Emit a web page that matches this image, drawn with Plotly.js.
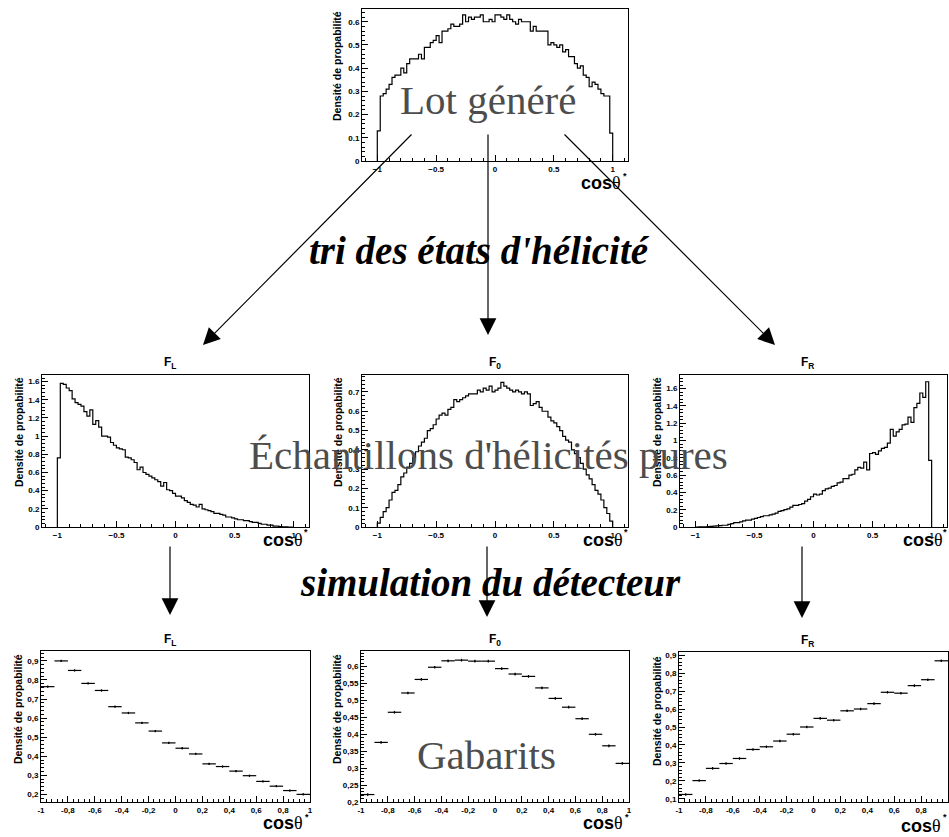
<!DOCTYPE html>
<html>
<head>
<meta charset="utf-8">
<script src="https://cdn.plot.ly/plotly-3.0.1.min.js"></script>
<style>
  body { margin: 0; background: #fff; }
  #plotly_graph { width: 949px; height: 837px; }
</style>
</head>
<body>
<div id="plotly_graph"></div>
<script>
//**************************************************************************
//~~~~~~~~~~~~~~~~~~~~~~~~~~~~~~~~~~ DATA ~~~~~~~~~~~~~~~~~~~~~~~~~~~~~~~~~~
//**************************************************************************

// histograms: 80 bins of 0.025 from -1 to 1
const HIST_LO = -1
const HIST_W = 0.025

const LOT = [
    0.13, 0.28, 0.29, 0.31, 0.33, 0.36, 0.37, 0.37, 0.40, 0.38,
    0.42, 0.44, 0.44, 0.44, 0.46, 0.44, 0.49, 0.49, 0.51, 0.52,
    0.54, 0.51, 0.56, 0.56, 0.57, 0.59, 0.58, 0.58, 0.59, 0.63,
    0.60, 0.62, 0.61, 0.62, 0.62, 0.63, 0.60, 0.60, 0.61, 0.60,
    0.63, 0.63, 0.62, 0.61, 0.63, 0.61, 0.60, 0.59, 0.61, 0.60,
    0.60, 0.60, 0.56, 0.58, 0.56, 0.56, 0.56, 0.56, 0.50, 0.51,
    0.50, 0.49, 0.50, 0.47, 0.48, 0.45, 0.45, 0.42, 0.40, 0.41,
    0.37, 0.36, 0.32, 0.34, 0.33, 0.31, 0.29, 0.28, 0.28, 0.12
]

const PURE_FL = [
    0.76, 1.58, 1.57, 1.53, 1.50, 1.41, 1.37, 1.35, 1.33, 1.27,
    1.22, 1.29, 1.13, 1.17, 1.10, 1.00, 1.00, 0.99, 0.93, 0.90,
    0.87, 0.86, 0.85, 0.77, 0.76, 0.74, 0.71, 0.63, 0.66, 0.60,
    0.58, 0.56, 0.54, 0.52, 0.50, 0.45, 0.49, 0.41, 0.40, 0.37,
    0.34, 0.34, 0.32, 0.29, 0.27, 0.25, 0.24, 0.22, 0.25, 0.20,
    0.19, 0.18, 0.17, 0.15, 0.15, 0.14, 0.13, 0.11, 0.11, 0.10,
    0.09, 0.08, 0.08, 0.07, 0.07, 0.06, 0.05, 0.05, 0.04, 0.03,
    0.03, 0.02, 0.02, 0.01, 0.01, 0.005, 0.003, 0.001, 0, 0
]

const PURE_F0 = [
    0.02, 0.05, 0.08, 0.10, 0.14, 0.18, 0.19, 0.22, 0.26, 0.28,
    0.31, 0.33, 0.36, 0.39, 0.42, 0.44, 0.46, 0.50, 0.51, 0.53,
    0.56, 0.58, 0.59, 0.58, 0.61, 0.62, 0.66, 0.65, 0.66, 0.67,
    0.68, 0.69, 0.69, 0.69, 0.71, 0.70, 0.72, 0.71, 0.73, 0.70,
    0.71, 0.72, 0.75, 0.73, 0.72, 0.71, 0.70, 0.71, 0.70, 0.69,
    0.70, 0.69, 0.63, 0.64, 0.65, 0.62, 0.60, 0.60, 0.57, 0.55,
    0.54, 0.52, 0.50, 0.47, 0.45, 0.44, 0.40, 0.38, 0.36, 0.33,
    0.30, 0.27, 0.25, 0.22, 0.19, 0.17, 0.14, 0.10, 0.07, 0.03
]

const PURE_FR = [
    0, 0.001, 0.002, 0.003, 0.005, 0.008, 0.01, 0.012, 0.015, 0.02,
    0.02, 0.03, 0.04, 0.05, 0.05, 0.06, 0.07, 0.08, 0.08, 0.09,
    0.10, 0.11, 0.12, 0.13, 0.13, 0.14, 0.15, 0.16, 0.18, 0.19,
    0.20, 0.21, 0.23, 0.25, 0.25, 0.26, 0.27, 0.30, 0.32, 0.35,
    0.38, 0.37, 0.38, 0.42, 0.44, 0.45, 0.47, 0.48, 0.51, 0.52,
    0.56, 0.56, 0.60, 0.61, 0.66, 0.69, 0.68, 0.75, 0.66, 0.85,
    0.86, 0.84, 0.88, 0.91, 0.92, 0.97, 1.13, 1.05, 1.10, 1.13,
    1.18, 1.19, 1.27, 1.21, 1.38, 1.43, 1.55, 1.50, 1.68, 0.77
]

// templates: 20 bins of 0.1
const TPL_X = [-0.95, -0.85, -0.75, -0.65, -0.55, -0.45, -0.35, -0.25, -0.15, -0.05,
               0.05, 0.15, 0.25, 0.35, 0.45, 0.55, 0.65, 0.75, 0.85, 0.95]
const TPL_FL = [0.765, 0.900, 0.850, 0.782, 0.745, 0.660, 0.627, 0.575, 0.532, 0.470,
                0.442, 0.412, 0.360, 0.346, 0.322, 0.298, 0.268, 0.243, 0.220, 0.200]
const TPL_F0 = [0.222, 0.376, 0.465, 0.522, 0.562, 0.598, 0.617, 0.619, 0.616, 0.616,
                0.594, 0.578, 0.571, 0.537, 0.506, 0.480, 0.446, 0.400, 0.366, 0.314]
const TPL_FR = [0.125, 0.202, 0.270, 0.297, 0.325, 0.375, 0.390, 0.422, 0.460, 0.500,
                0.548, 0.538, 0.590, 0.600, 0.630, 0.693, 0.688, 0.730, 0.763, 0.868]

// tick labels of the template plots (comma decimals)
const TPL_XTICKS = [-1, -0.8, -0.6, -0.4, -0.2, 0, 0.2, 0.4, 0.6, 0.8, 1]
const TPL_XTEXT = ['-1', '-0,8', '-0,6', '-0,4', '-0,2', '0', '0,2', '0,4', '0,6', '0,8', '1']
const FL_YTICKS = [0.2, 0.3, 0.4, 0.5, 0.6, 0.7, 0.8, 0.9]
const FL_YTEXT = ['0,2', '0,3', '0,4', '0,5', '0,6', '0,7', '0,8', '0,9']
const F0_YTICKS = [0.2, 0.25, 0.3, 0.35, 0.4, 0.45, 0.5, 0.55, 0.6]
const F0_YTEXT = ['0,2', '0,25', '0,3', '0,35', '0,4', '0,45', '0,5', '0,55', '0,6']
const FR_YTICKS = [0.1, 0.2, 0.3, 0.4, 0.5, 0.6, 0.7, 0.8, 0.9]
const FR_YTEXT = ['0,1', '0,2', '0,3', '0,4', '0,5', '0,6', '0,7', '0,8', '0,9']


//**************************************************************************
//~~~~~~~~~~~~~~~~~~~~~~~~~~~~~~~~ PANELS ~~~~~~~~~~~~~~~~~~~~~~~~~~~~~~~~~~
//**************************************************************************

const W = 949, H = 837

// frame = [left, right, top, bottom] in page pixels
const PANELS = [
    { frame: [362, 628, 9, 161], yr: [0, 0.655], ydt: 0.1, ymn: 0.02, hist: LOT,
      title: null, ytl: [337, 66], cos: [623, 183], star: [625, 176] },
    { frame: [42, 309, 375, 527], yr: [0, 1.673], ydt: 0.2, ymn: 0.04, hist: PURE_FL,
      title: ['F', 'L', 170, 363], ytl: [19, 432], cos: [305, 540], star: [306, 532] },
    { frame: [362, 628, 375, 527], yr: [0, 0.788], ydt: 0.1, ymn: 0.02, hist: PURE_F0,
      title: ['F', '0', 495, 363], ytl: [338, 432], cos: [625, 540], star: [626, 532] },
    { frame: [680, 947, 375, 527], yr: [0, 1.758], ydt: 0.2, ymn: 0.04, hist: PURE_FR,
      title: ['F', 'R', 807, 363], ytl: [657, 432], cos: [945, 540], star: [945, 532] },
    { frame: [41, 310, 651, 802], yr: [0.16, 0.952], ymn: 0.02, tpl: TPL_FL, err: 0.006,
      yticks: FL_YTICKS, ytext: FL_YTEXT,
      title: ['F', 'L', 170, 640], ytl: [18, 709], cos: [305, 823], star: [307, 817] },
    { frame: [361, 629, 651, 802], yr: [0.2, 0.646], ymn: 0.01, tpl: TPL_F0, err: 0.004,
      yticks: F0_YTICKS, ytext: F0_YTEXT,
      title: ['F', '0', 495, 640], ytl: [337, 709], cos: [625, 823], star: [627, 817] },
    { frame: [679, 948, 652, 802], yr: [0.083, 0.917], ymn: 0.02, tpl: TPL_FR, err: 0.007,
      yticks: FR_YTICKS, ytext: FR_YTEXT,
      title: ['F', 'R', 807, 641], ytl: [657, 711], cos: [943, 826], star: [945, 817] }
]

const px = p => p / W
const py = p => 1 - p / H

const AXIS_STYLE = {
    showline: true, mirror: true, linecolor: '#000', linewidth: 1,
    ticks: 'inside', ticklen: 6, tickwidth: 1, tickcolor: '#000',
    showgrid: false, zeroline: false, fixedrange: true,
    tickfont: { family: 'Liberation Sans, Arial, sans-serif', size: 8, weight: 'bold', color: '#000' }
}


//**************************************************************************
//~~~~~~~~~~~~~~~~~~~~~~~~~~~~~~~~~ TRACES ~~~~~~~~~~~~~~~~~~~~~~~~~~~~~~~~~
//**************************************************************************

function stepTrace(vals, xa, ya) {
    // ROOT style outline: up from 0 at the first edge, steps, down to 0 at the last edge
    let xs = [HIST_LO], ys = [0]
    vals.forEach((v, i) => { xs.push(HIST_LO + i * HIST_W); ys.push(v) })
    xs.push(HIST_LO + vals.length * HIST_W); ys.push(0)
    return {
        type: 'scatter', mode: 'lines', x: xs, y: ys, xaxis: xa, yaxis: ya,
        line: { shape: 'hv', color: '#000', width: 1.2 }, hoverinfo: 'skip'
    }
}

function errTrace(vals, err, xa, ya) {
    return {
        type: 'scatter', mode: 'markers', x: TPL_X, y: vals, xaxis: xa, yaxis: ya,
        marker: { size: 1.5, color: '#000' },
        error_x: { type: 'constant', value: 0.05, width: 0, thickness: 1.2, color: '#000' },
        error_y: { type: 'constant', value: err, width: 0, thickness: 1.2, color: '#000' },
        hoverinfo: 'skip'
    }
}

let data = []
let layout = {
    width: W, height: H,
    margin: { t: 0, r: 0, b: 0, l: 0 },
    paper_bgcolor: '#fff', plot_bgcolor: '#fff',
    showlegend: false,
    annotations: []
}

const SANS = 'Liberation Sans, Arial, sans-serif'
const SERIF = 'Liberation Serif, Times New Roman, serif'

PANELS.forEach((p, i) => {
    let n = i ? String(i + 1) : ''
    let xa = 'x' + n, ya = 'y' + n
    let [l, r, t, b] = p.frame

    let xaxis = Object.assign({}, AXIS_STYLE, {
        domain: [px(l), px(r)], anchor: ya
    })
    let yaxis = Object.assign({}, AXIS_STYLE, {
        domain: [py(b), py(t)], anchor: xa, range: p.yr,
        minor: { ticks: 'inside', ticklen: 3, tickcolor: '#000', dtick: p.ymn, tick0: 0, showgrid: false }
    })

    if (p.hist) {
        xaxis.range = [-1.13, 1.13]
        xaxis.tick0 = 0
        xaxis.dtick = 0.5
        xaxis.minor = { ticks: 'inside', ticklen: 3, tickcolor: '#000', dtick: 0.1, tick0: 0, showgrid: false }
        yaxis.tick0 = 0
        yaxis.dtick = p.ydt
        data.push(stepTrace(p.hist, xa, ya))
    } else {
        xaxis.range = [-1, 1]
        xaxis.tickmode = 'array'
        xaxis.tickvals = TPL_XTICKS
        xaxis.ticktext = TPL_XTEXT
        xaxis.minor = { ticks: 'inside', ticklen: 3, tickcolor: '#000', tickmode: 'linear', dtick: 0.04, tick0: 0, showgrid: false }
        yaxis.tickmode = 'array'
        yaxis.tickvals = p.yticks
        yaxis.ticktext = p.ytext
        yaxis.minor.tickmode = 'linear'
        data.push(errTrace(p.tpl, p.err, xa, ya))
    }

    layout['xaxis' + n] = xaxis
    layout['yaxis' + n] = yaxis

    // y title, aligned to the top of the frame like ROOT
    layout.annotations.push({
        xref: 'paper', yref: 'paper', x: px(p.ytl[0]), y: py(p.ytl[1]),
        xanchor: 'center', yanchor: 'middle', textangle: -90, showarrow: false,
        text: 'Densité de propabilité',
        font: { family: SANS, size: 10.5, weight: 'bold', color: '#000' }
    })
    // x title cos(theta)*
    layout.annotations.push({
        xref: 'paper', yref: 'paper', x: px(p.cos[0]), y: py(p.cos[1]),
        xanchor: 'right', yanchor: 'middle', showarrow: false,
        text: '<b>cos</b><span style="font-family:' + SERIF + ';font-weight:normal">θ</span>',
        font: { family: SANS, size: 18, color: '#000' }
    })
    layout.annotations.push({
        xref: 'paper', yref: 'paper', x: px(p.star[0]), y: py(p.star[1]),
        xanchor: 'center', yanchor: 'middle', showarrow: false,
        text: '<b>*</b>', font: { family: SANS, size: 9, color: '#000' }
    })
    if (p.title) {
        layout.annotations.push({
            xref: 'paper', yref: 'paper', x: px(p.title[2]), y: py(p.title[3]),
            xanchor: 'center', yanchor: 'middle', showarrow: false,
            text: '<b>' + p.title[0] + '<sub>' + p.title[1] + '</sub></b>',
            font: { family: SANS, size: 12, color: '#000' }
        })
    }
})


//**************************************************************************
//~~~~~~~~~~~~~~~~~~~~~~~~~~~~~ LABELS / ARROWS ~~~~~~~~~~~~~~~~~~~~~~~~~~~~
//**************************************************************************

const GREY = '#4d4d4d'
const BIG = [
    ['Lot généré', 488, 100, false],
    ["tri des états d'hélicité", 479, 250, true],
    ["Échantillons d'hélicités pures", 488, 455, false],
    ['simulation du détecteur', 490, 582, true],
    ['Gabarits', 487, 755, false]
]
BIG.forEach(([txt, x, y, ital]) => {
    layout.annotations.push({
        xref: 'paper', yref: 'paper', x: px(x), y: py(y),
        xanchor: 'center', yanchor: 'middle', showarrow: false,
        text: ital ? '<b><i>' + txt + '</i></b>' : txt,
        font: { family: SERIF, size: ital ? 39 : 41, color: ital ? '#000' : GREY }
    })
})

// [head x, head y, tail x, tail y]
const ARROWS = [
    [203, 345, 413, 133],
    [488, 335, 488, 133],
    [775, 345, 563, 133],
    [170, 615, 170, 545],
    [487, 617, 487, 545],
    [802, 618, 802, 545]
]
ARROWS.forEach(([hx, hy, tx, ty]) => {
    layout.annotations.push({
        xref: 'paper', yref: 'paper', x: px(hx), y: py(hy),
        ax: tx - hx, ay: ty - hy, text: '', showarrow: true,
        arrowhead: 2, arrowsize: 2.8, arrowwidth: 1.2, arrowcolor: '#000',
        standoff: 0, startstandoff: 0
    })
})


//**************************************************************************
//~~~~~~~~~~~~~~~~~~~~~~~~~~~~~~~~~ CREATE ~~~~~~~~~~~~~~~~~~~~~~~~~~~~~~~~~
//**************************************************************************

const config = { displaylogo: false, displayModeBar: false, staticPlot: true }

Plotly.newPlot(document.getElementById('plotly_graph'), data, layout, config)
</script>
</body>
</html>
